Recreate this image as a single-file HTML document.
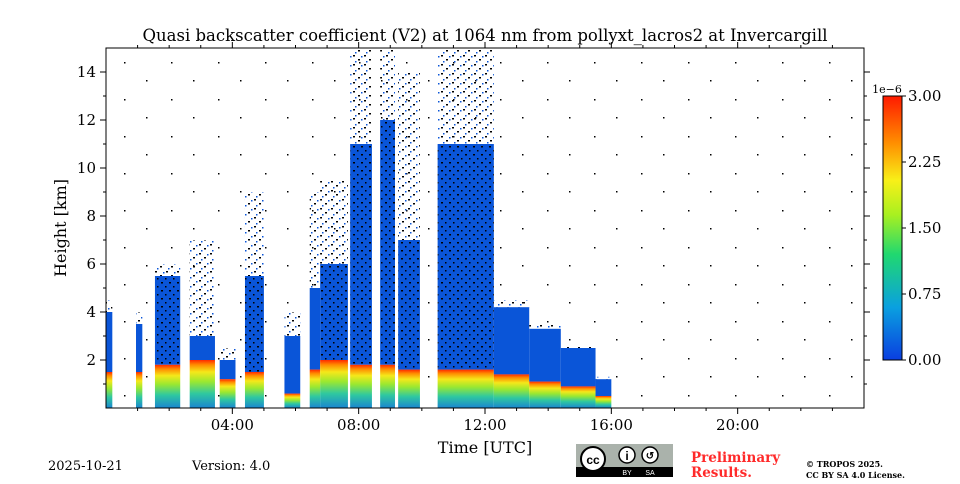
<!DOCTYPE html>
<html><head><meta charset="utf-8">
<style>
body{margin:0;background:#fff;width:960px;height:480px;overflow:hidden;font-family:"DejaVu Serif","Liberation Serif",serif}
</style></head>
<body>
<svg id="chart" width="960" height="480" xmlns="http://www.w3.org/2000/svg" font-family="DejaVu Serif, Liberation Serif, serif">
<defs>
<linearGradient id="lowGrad" x1="0" y1="1" x2="0" y2="0">
<stop offset="0" stop-color="#1a86d0"/><stop offset="0.3" stop-color="#2fc8a0"/>
<stop offset="0.55" stop-color="#9be830"/><stop offset="0.75" stop-color="#f5e81a"/>
<stop offset="0.9" stop-color="#ff8c00"/><stop offset="1" stop-color="#ff2a00"/>
</linearGradient>
<linearGradient id="cbGrad" x1="0" y1="1" x2="0" y2="0">
<stop offset="0" stop-color="#0a3ee0"/><stop offset="0.2" stop-color="#0aa0e0"/>
<stop offset="0.4" stop-color="#20d870"/><stop offset="0.55" stop-color="#a8f020"/>
<stop offset="0.68" stop-color="#f8f018"/><stop offset="0.82" stop-color="#ff9000"/>
<stop offset="1" stop-color="#ff1a00"/>
</linearGradient>
<pattern id="dots" width="11" height="9" patternUnits="userSpaceOnUse">
<rect x="1" y="1" width="2" height="1.5" fill="#000"/><rect x="6" y="5" width="2" height="1.5" fill="#000"/>
<rect x="9" y="2" width="1.5" height="1.5" fill="#0a55d8"/><rect x="3" y="7" width="1.5" height="1.5" fill="#0a55d8"/>
</pattern>
<pattern id="bluedots" width="8" height="8" patternUnits="userSpaceOnUse">
<rect width="8" height="8" fill="#0a55d8"/><rect x="1" y="2" width="2" height="1.5" fill="#000"/><rect x="5" y="6" width="1.5" height="1.5" fill="#000"/>
</pattern>
<pattern id="sparse" width="47" height="37" patternUnits="userSpaceOnUse">
<rect x="5" y="6" width="1.5" height="1.5" fill="#000"/><rect x="30" y="25" width="1.5" height="1.5" fill="#000"/>
</pattern>
</defs>
<text x="485" y="41" text-anchor="middle" font-size="16.5">Quasi backscatter coefficient (V2) at 1064 nm from pollyxt_lacros2 at Invercargill</text>
<g id="marks"></g>
<g id="axes"></g>
<text x="485" y="453" text-anchor="middle" font-size="16">Time [UTC]</text>
<text transform="translate(66,228) rotate(-90)" text-anchor="middle" font-size="16">Height [km]</text>
<rect x="883" y="96" width="19" height="264" fill="url(#cbGrad)" stroke="#000" stroke-width="1"/>
<g id="cbticks"></g>
<text x="887" y="93" text-anchor="middle" font-size="11">1e−6</text>
<text x="48" y="470" font-size="13">2025-10-21</text>
<text x="192" y="470" font-size="13">Version: 4.0</text>
<g>
<rect x="576" y="444" width="97" height="33" fill="#aab2ab"/>
<rect x="576" y="467" width="97" height="10" fill="#000"/>
<circle cx="593" cy="459" r="12" fill="#fff" stroke="#000" stroke-width="2"/>
<text x="593" y="464" text-anchor="middle" font-size="12" font-weight="bold" font-family="Liberation Sans, sans-serif">cc</text>
<circle cx="627" cy="455" r="8" fill="#fff" stroke="#000" stroke-width="1.5"/>
<text x="627" y="460" text-anchor="middle" font-size="12" font-weight="bold" font-family="Liberation Sans, sans-serif">i</text>
<circle cx="650" cy="455" r="8" fill="#fff" stroke="#000" stroke-width="1.5"/>
<text x="650" y="459" text-anchor="middle" font-size="10" font-weight="bold" font-family="Liberation Sans, sans-serif">↺</text>
<text x="627" y="475" text-anchor="middle" font-size="7" fill="#fff" font-family="Liberation Sans, sans-serif">BY</text>
<text x="650" y="475" text-anchor="middle" font-size="7" fill="#fff" font-family="Liberation Sans, sans-serif">SA</text>
</g>
<text font-size="13.5" font-weight="bold" fill="#ff2a2a"><tspan x="691" y="462">Preliminary</tspan><tspan x="691" y="477">Results.</tspan></text>
<text font-size="8" font-weight="bold"><tspan x="806" y="467">© TROPOS 2025.</tspan><tspan x="806" y="478">CC BY SA 4.0 License.</tspan></text>
</svg>
<script>
// Cloud/aerosol segments: start hour, end hour, layer tops in km
const segStart = [0.0, 0.95, 1.55, 2.65, 3.6, 4.4, 5.65, 6.45, 6.78, 7.73, 8.68, 9.25, 10.5, 12.28, 13.4, 14.4, 15.5];
const segEnd   = [0.2, 1.15, 2.35, 3.45, 4.1, 5.0, 6.15, 6.78, 7.66, 8.42, 9.15, 9.94, 12.28, 13.4, 14.4, 15.5, 16.0];
const lowTop   = [1.5, 1.5, 1.8, 2.0, 1.2, 1.5, 0.6, 1.6, 2.0, 1.8, 1.8, 1.6, 1.6, 1.4, 1.1, 0.9, 0.5];
const blueTop  = [4.0, 3.5, 5.5, 3.0, 2.0, 5.5, 3.0, 5.0, 6.0, 11.0, 12.0, 7.0, 11.0, 4.2, 3.3, 2.5, 1.2];
const dotTop   = [4.5, 4.0, 6.0, 7.0, 2.5, 9.0, 4.0, 9.0, 9.5, 15.0, 15.0, 14.0, 15.0, 4.5, 3.5, 2.6, 1.3];
const xTickHours = [4, 8, 12, 16, 20];
const xTickLabels = ["04:00", "08:00", "12:00", "16:00", "20:00"];
const yTicks = [2, 4, 6, 8, 10, 12, 14];
const cbTicks = [0, 0.75, 1.5, 2.25, 3.0];
const cbLabels = ["0.00", "0.75", "1.50", "2.25", "3.00"];

const NS = "http://www.w3.org/2000/svg";
const X0 = 106, X1 = 864, Y0 = 408, Y1 = 48;
const xs = h => X0 + h / 24 * (X1 - X0);
const ys = km => Y0 - km / 15 * (Y0 - Y1);
const cb = v => 360 - v / 3 * 264;
function mk(tag, attrs, parent) {
  const e = document.createElementNS(NS, tag);
  for (const k in attrs) e.setAttribute(k, attrs[k]);
  parent.appendChild(e);
  return e;
}
const marks = document.getElementById("marks");
const bg = mk("rect", {x: X0, y: Y1, width: X1 - X0, height: Y0 - Y1, fill: "url(#sparse)"}, marks);


for (let i = 0; i < segStart.length; i++) {
  const x = xs(segStart[i]), w = xs(segEnd[i]) - x;
  const g = mk("g", {}, marks);
  
  
  mk("rect", {x: x, y: ys(dotTop[i]), width: w, height: ys(blueTop[i]) - ys(dotTop[i]), fill: "url(#dots)"}, g);
  mk("rect", {x: x, y: ys(blueTop[i]), width: w, height: ys(lowTop[i]) - ys(blueTop[i]), fill: blueTop[i] > 5 ? "url(#bluedots)" : "#0a55d8"}, g);
  mk("rect", {x: x, y: ys(lowTop[i]), width: w, height: ys(0) - ys(lowTop[i]), fill: "url(#lowGrad)"}, g);
}
const axes = document.getElementById("axes");
const frame = mk("rect", {x: X0, y: Y1, width: X1 - X0, height: Y0 - Y1, fill: "none", stroke: "#000", "stroke-width": 1}, axes);


for (let h = 1; h < 24; h++) {
  const major = h % 4 === 0, L = major ? 6 : 3;
  mk("line", {x1: xs(h), x2: xs(h), y1: Y0, y2: Y0 + L, stroke: "#000"}, axes);
  mk("line", {x1: xs(h), x2: xs(h), y1: Y1, y2: Y1 - L, stroke: "#000"}, axes);
}
xTickHours.forEach((h, i) => {
  const t = mk("text", {x: xs(h), y: Y0 + 22, "text-anchor": "middle", "font-size": 15}, axes);
  t.textContent = xTickLabels[i];
  
  
});
yTicks.forEach(v => {
  mk("line", {x1: X0 - 6, x2: X0, y1: ys(v), y2: ys(v), stroke: "#000"}, axes);
  mk("line", {x1: X1, x2: X1 + 6, y1: ys(v), y2: ys(v), stroke: "#000"}, axes);
  mk("line", {x1: X0 - 3, x2: X0, y1: ys(v - 1), y2: ys(v - 1), stroke: "#000"}, axes);
  mk("line", {x1: X1, x2: X1 + 3, y1: ys(v - 1), y2: ys(v - 1), stroke: "#000"}, axes);
  const t = mk("text", {x: X0 - 10, y: ys(v) + 5, "text-anchor": "end", "font-size": 15}, axes);
  t.textContent = v;
  
  
});
const cbg = document.getElementById("cbticks");
cbTicks.forEach((v, i) => {
  mk("line", {x1: 902, x2: 906, y1: cb(v), y2: cb(v), stroke: "#000"}, cbg);
  const t = mk("text", {x: 908, y: cb(v) + 5, "font-size": 15}, cbg);
  t.textContent = cbLabels[i];
  
  
});
</script>
</body></html>
